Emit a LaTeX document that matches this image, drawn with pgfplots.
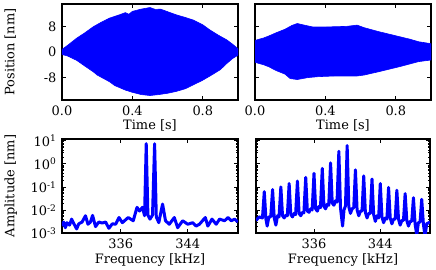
\documentclass[border=0pt]{standalone}
\usepackage{fontspec}
\setmainfont{DejaVu Serif}
\usepackage{pgfplots}
\pgfplotsset{compat=1.18}
\definecolor{mplblue}{rgb}{0,0,1}

\pgfplotsset{
  base/.style={
    scale only axis,
    axis line style={line width=1.2pt},
    tick align=inside,
    tick style={black, line width=0.8pt},
    major tick length=4bp,
    minor tick length=2bp,
    /pgf/number format/assume math mode=true,
    xticklabel style={anchor=north, yshift=-1bp},
    yticklabel style={anchor=east, xshift=-1bp},
  },
  toprow/.style={base, width=176bp, height=96bp,
    xmin=0, xmax=1, ymin=-15, ymax=15,
    xtick={0,0.4,0.8}, xticklabels={0.0,0.4,0.8},
    ytick={-8,0,8},
    xlabel={Time [s]},
    xlabel style={at={(axis description cs:0.5,-0.305)}, anchor=base},
  },
  botrow/.style={base, height=94bp,
    xmin=329, xmax=350, ymin=1e-3, ymax=12,
    xtick={336,344}, xticklabels={336,344},
    ytick={1e-3,1e-2,1e-1,1,10},
    xlabel={Frequency [kHz]},
    xlabel style={at={(axis description cs:0.5,-0.327)}, anchor=base},
  },
}

\begin{document}
\fontsize{13}{15}\selectfont
\begin{tikzpicture}
\useasboundingbox (0,0) rectangle (436bp,270bp);

% ---------- top left
\begin{axis}[toprow, at={(62bp,170bp)}, anchor=south west,
  yticklabels={-8,0,8},
  ylabel={Position [nm]},
  ylabel style={at={(axis description cs:-0.27,0.5)}, anchor=base},
]
\addplot[draw=mplblue, fill=mplblue, line width=0.6pt] coordinates {
(0,0.8) (0.03,2.0) (0.083,4.3) (0.13,6.0) (0.178,7.9) (0.22,9.2) (0.27,10.6)
(0.32,11.5) (0.36,12.3) (0.38,11.8) (0.40,12.7) (0.45,13.4) (0.5,13.9)
(0.53,13.3) (0.56,13.4) (0.6,12.6) (0.65,11.6) (0.7,10.8) (0.745,10.0)
(0.8,8.5) (0.84,6.9) (0.89,5.2) (0.936,3.8) (0.97,2.4) (1.0,1.0)
(1.0,-1.0) (0.97,-2.0) (0.936,-3.6) (0.9,-5.5) (0.85,-7.2) (0.8,-8.8)
(0.745,-10.3) (0.7,-11.5) (0.65,-12.3) (0.6,-12.9) (0.55,-13.3) (0.5,-13.6)
(0.45,-13.3) (0.4,-12.6) (0.36,-11.9) (0.3,-10.5) (0.27,-9.3) (0.2,-7.2)
(0.178,-6.2) (0.13,-4.4) (0.083,-2.6) (0.03,-1.2) (0,-0.8)
};
\end{axis}

% ---------- top right
\begin{axis}[toprow, at={(255bp,170bp)}, anchor=south west,
  yticklabels={},
]
\addplot[draw=mplblue, fill=mplblue, line width=0.6pt] coordinates {
(0,3.5) (0.011,3.8) (0.05,4.4) (0.078,5.0) (0.12,6.0) (0.17,7.1) (0.21,8.3) (0.24,8.9) (0.28,8.4)
(0.33,7.8) (0.4,7.8) (0.45,7.9) (0.52,8.0) (0.58,8.4) (0.62,7.6) (0.7,6.4)
(0.76,5.6) (0.82,4.8) (0.88,4.0) (0.93,3.2) (1.0,2.6)
(1.0,-2.5) (0.93,-3.0) (0.82,-4.6) (0.7,-6.2) (0.62,-7.2) (0.58,-7.5)
(0.45,-7.5) (0.36,-7.7) (0.3,-8.0) (0.24,-8.6) (0.2,-8.3) (0.17,-6.9)
(0.12,-5.8) (0.078,-4.6) (0.05,-4.0) (0.011,-3.4) (0,-3.2)
};
\end{axis}

% ---------- bottom left
\begin{axis}[ymode=log, botrow, width=176bp, at={(62bp,37bp)}, anchor=south west,
  yticklabels={10\textsuperscript{-3},10\textsuperscript{-2},10\textsuperscript{-1},10\textsuperscript{0},10\textsuperscript{1}},
  ylabel={Amplitude [nm]},
  ylabel style={at={(axis description cs:-0.27,0.5)}, anchor=base},
]
\addplot[mplblue, line width=3bp, line join=round] coordinates {
(329.0,0.0020) (329.2,0.0030) (329.4,0.0017) (329.6,0.0028) (329.9,0.0022)
(330.15,0.0040) (330.45,0.0024) (330.75,0.0015) (331.0,0.0025) (331.4,0.0030)
(331.8,0.0056) (332.1,0.0024) (332.4,0.0030) (332.65,0.0058) (333.0,0.0019)
(333.4,0.0030) (333.8,0.0027) (334.2,0.0030) (334.6,0.0016) (335.0,0.0025)
(335.4,0.0024) (335.8,0.0047) (336.2,0.0028) (336.5,0.0035) (336.9,0.0047)
(337.5,0.0034) (337.95,0.013) (338.25,0.009) (338.6,0.013) (338.85,0.0056)
(339.05,7.5) (339.25,0.006) (339.5,0.0040) (339.8,0.006) (340.05,7.5)
(340.25,0.005) (340.55,0.0028) (341.0,0.018) (341.35,0.0034) (341.8,0.0024)
(342.4,0.0047) (342.8,0.0017) (343.4,0.0034) (344.0,0.0024) (344.6,0.0028)
(345.0,0.0020) (345.4,0.0024) (346.1,0.0047) (346.4,0.0020) (346.9,0.0040)
(347.4,0.0024) (347.8,0.0040) (348.4,0.0034) (348.8,0.0047) (349.2,0.0034)
(349.6,0.0040) (350.0,0.0030)
};
\end{axis}

% ---------- bottom right
\begin{axis}[ymode=log, botrow, width=174bp, at={(256bp,37bp)}, anchor=south west,
  yticklabels={},
]
\addplot[mplblue, line width=3bp, line join=round] coordinates {
(329.0,0.0035) (329.4,0.0050) (329.78,0.0045)
(330.0,0.062) (330.2,0.004) (330.35,0.0020) (330.55,0.0050) (330.78,0.0050)
(331.0,0.077) (331.2,0.0045) (331.4,0.0022) (331.6,0.0056) (331.78,0.0050)
(332.0,0.10) (332.2,0.0056) (332.4,0.0045) (332.6,0.0060) (332.78,0.0056)
(333.0,0.14) (333.2,0.0063) (333.4,0.0050) (333.6,0.0071) (333.78,0.0063)
(334.0,0.18) (334.2,0.0071) (334.4,0.0056) (334.6,0.0079) (334.78,0.0075)
(335.0,0.26) (335.2,0.0089) (335.4,0.0079) (335.6,0.0112) (335.78,0.0100)
(336.0,0.39) (336.2,0.0112) (336.4,0.0089) (336.6,0.0141) (336.78,0.0126)
(337.0,0.64) (337.2,0.0141) (337.4,0.0112) (337.6,0.0178) (337.78,0.0160)
(338.0,1.1) (338.2,0.020) (338.4,0.016) (338.6,0.025) (338.78,0.022)
(339.0,3.5) (339.2,0.012) (339.45,0.0020) (339.62,0.0100) (339.8,0.0150)
(340.0,6.2) (340.2,0.0141) (340.4,0.0071) (340.6,0.0112) (340.8,0.0126)
(341.0,0.55) (341.2,0.0100) (341.4,0.0056) (341.6,0.0089) (341.8,0.0089)
(342.0,0.30) (342.2,0.0079) (342.4,0.0045) (342.6,0.0071) (342.8,0.0071)
(343.0,0.22) (343.2,0.0063) (343.4,0.0032) (343.6,0.0056) (343.8,0.0045)
(344.0,0.14) (344.2,0.0050) (344.4,0.0028) (344.6,0.0045) (344.8,0.0040)
(345.0,0.095) (345.2,0.0045) (345.4,0.0025) (345.6,0.0040) (345.8,0.0040)
(346.0,0.072) (346.2,0.0040) (346.4,0.0022) (346.6,0.0035) (346.8,0.0035)
(347.0,0.051) (347.2,0.0035) (347.4,0.0020) (347.6,0.0032) (347.8,0.0032)
(348.0,0.034) (348.2,0.0025) (348.4,0.0008) (348.6,0.0028) (348.8,0.0030)
(349.0,0.029) (349.2,0.0025) (349.4,0.0007) (349.6,0.0025) (350.0,0.0030)
};
\end{axis}
\end{tikzpicture}
\end{document}
